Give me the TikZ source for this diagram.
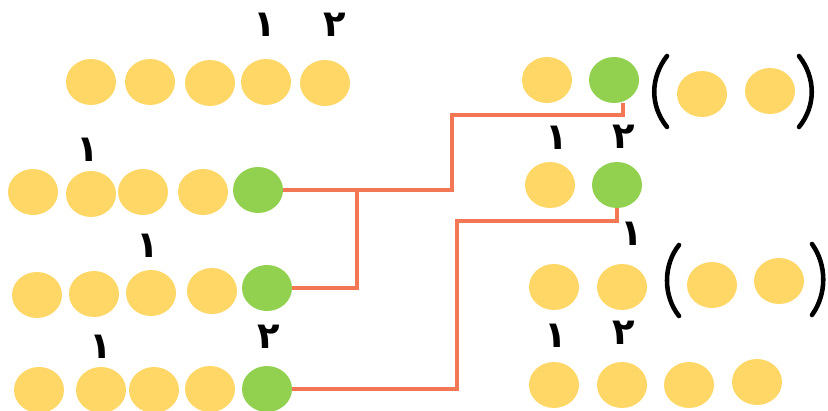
\documentclass[tikz,border=0pt]{standalone}
\usepackage{fontspec}
\usetikzlibrary{shapes.geometric}
\newfontfamily\arabicfont[Script=Arabic]{DejaVu Sans}
\TeXXeTstate=1

\definecolor{bead}{HTML}{FFD766}
\definecolor{leaf}{HTML}{92D050}
\definecolor{wire}{HTML}{F47755}

\begin{document}
\begin{tikzpicture}[x=0.02cm,y=-0.02cm,
    ball/.style={ellipse,fill=bead,inner sep=0pt,outer sep=0pt,minimum width=1.0cm,minimum height=0.92cm},
    gball/.style={ball,fill=leaf},
    digit/.style={font=\arabicfont\bfseries\fontsize{21}{21}\selectfont,inner sep=0pt},
    link/.style={draw=wire,line width=2.6pt},
    paren/.style={line width=2.6pt,line cap=round}]
    \useasboundingbox (0,0) rectangle (828,411);

    % left, first row
    \node[ball] (a1) at (91,82) {};
    \node[ball] (a2) at (150,82) {};
    \node[ball] (a3) at (210,83) {};
    \node[ball] (a4) at (266,82) {};
    \node[ball] (a5) at (325,83) {};
    \node[digit] (la4) at (265,25) {\beginR ١\endR};
    \node[digit] (la5) at (335,25) {\beginR ٢\endR};

    % left, second row
    \node[ball] (b1) at (33,192) {};
    \node[ball] (b2) at (91,194) {};
    \node[ball] (b3) at (143,192) {};
    \node[ball] (b4) at (203,192) {};
    \node[gball] (b5) at (258,190) {};
    \node[digit] (lb2) at (88,150) {\beginR ١\endR};

    % left, third row
    \node[ball] (c1) at (37,295) {};
    \node[ball] (c2) at (94,294) {};
    \node[ball] (c3) at (151,293) {};
    \node[ball] (c4) at (212,291) {};
    \node[gball] (c5) at (267,288) {};
    \node[digit] (lc3) at (148,246) {\beginR ١\endR};

    % left, fourth row
    \node[ball] (d1) at (39,390) {};
    \node[ball] (d2) at (101,390) {};
    \node[ball] (d3) at (154,390) {};
    \node[ball] (d4) at (210,389) {};
    \node[gball] (d5) at (267,389) {};
    \node[digit] (ld2) at (101,347) {\beginR ١\endR};
    \node[digit] (ld5) at (269,337) {\beginR ٢\endR};

    % right, first row
    \node[ball] (e1) at (547,80) {};
    \node[gball] (e2) at (614,80) {};
    \node[ball] (e3) at (702,94) {};
    \node[ball] (e4) at (770,91) {};
    \draw[paren] (667,56) .. controls (650,78) and (650,106) .. (667,127);
    \draw[paren] (799,56) .. controls (816,78) and (816,106) .. (799,127);
    \node[digit] (le1) at (557,138) {\beginR ١\endR};
    \node[digit] (le2) at (624,137) {\beginR ٢\endR};

    % right, second row
    \node[ball] (f1) at (550,185) {};
    \node[gball] (f2) at (617,185) {};
    \node[digit] (lf2) at (632,234) {\beginR ١\endR};

    % right, third row
    \node[ball] (g1) at (554,287) {};
    \node[ball] (g2) at (622,287) {};
    \node[ball] (g3) at (712,285) {};
    \node[ball] (g4) at (779,281) {};
    \draw[paren] (679,245) .. controls (663,265) and (663,296) .. (679,316);
    \draw[paren] (812,244) .. controls (827,265) and (827,294) .. (812,315);
    \node[digit] (lg1) at (556,336) {\beginR ١\endR};
    \node[digit] (lg2) at (624,333) {\beginR ٢\endR};

    % right, fourth row
    \node[ball] (h1) at (554,385) {};
    \node[ball] (h2) at (622,385) {};
    \node[ball] (h3) at (689,385) {};
    \node[ball] (h4) at (757,382) {};

    % connectors
    \coordinate (knee1) at (357,190);
    \coordinate (knee2) at (452,115);
    \coordinate (knee3) at (457,221);
    \draw[link] (b5.east) -| (knee2) -| ([xshift=0.18cm]e2.south);
    \draw[link] (knee1) |- (c5.east);
    \draw[link] (d5.east) -| (knee3) -| (f2.south);
\end{tikzpicture}
\end{document}
